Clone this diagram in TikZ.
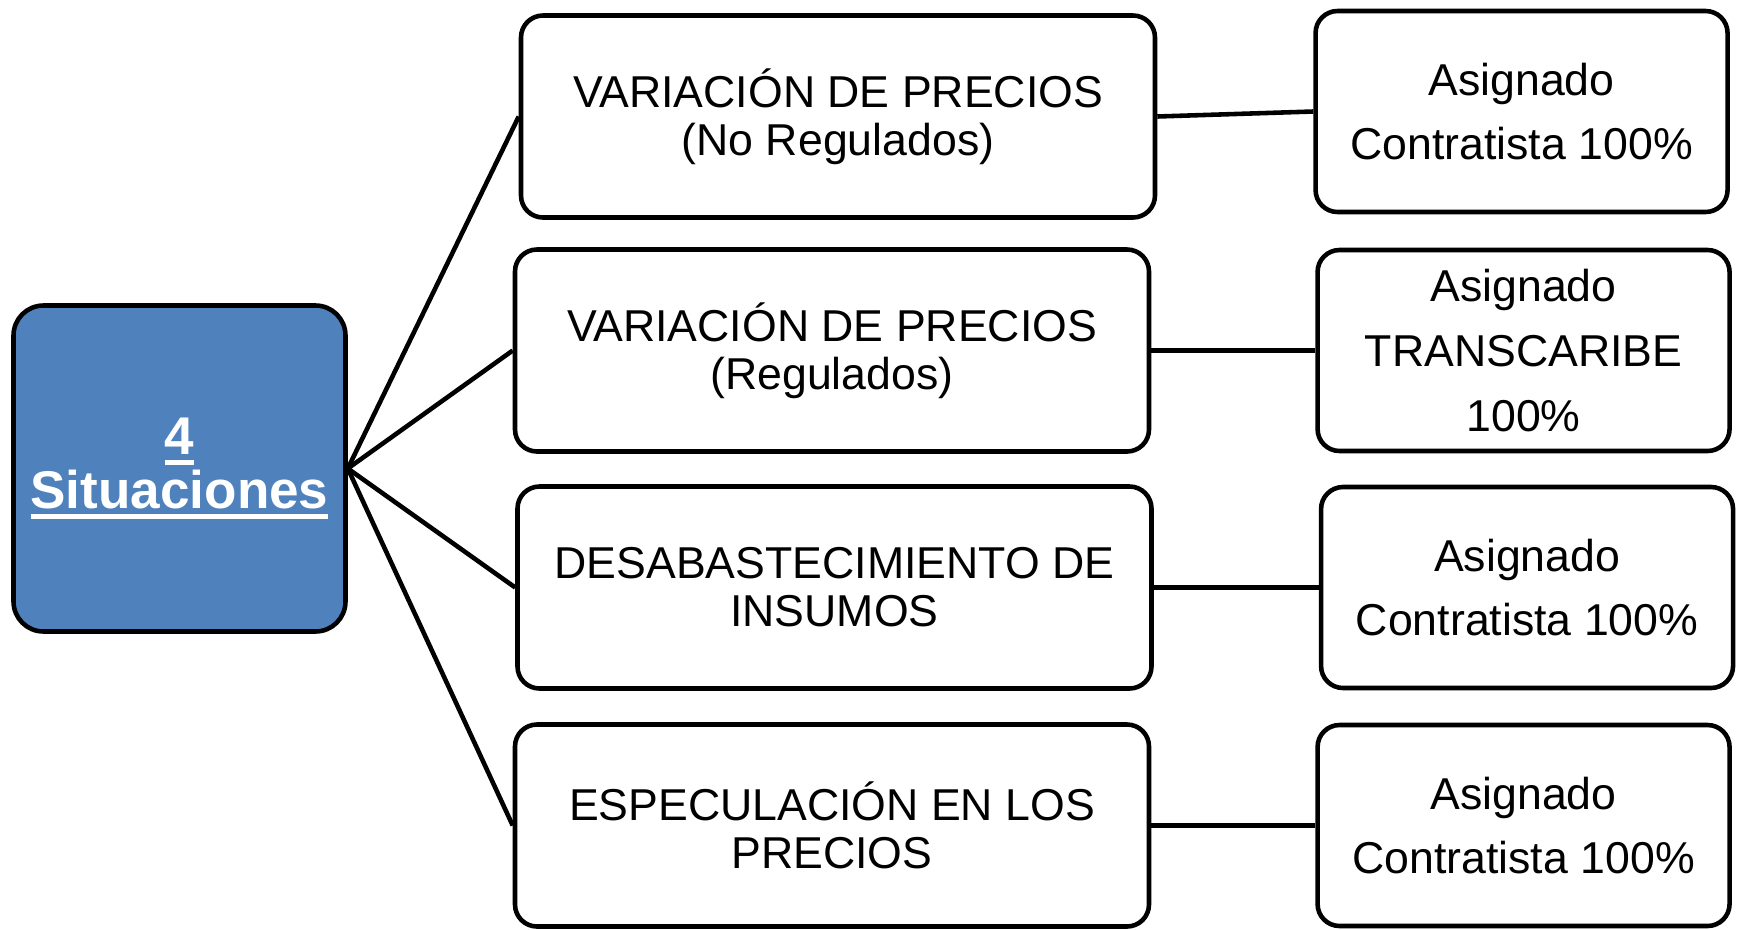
\documentclass[tikz,border=0pt]{standalone}
\usepackage{fontspec}
\setmainfont{Liberation Sans}
\usepackage{tikz}
\usetikzlibrary{positioning}
\definecolor{hubblue}{RGB}{79,129,189}
\newsavebox\ulbox
\newcommand{\thickul}[1]{\sbox\ulbox{#1}\rlap{\rule[-3.1pt]{\wd\ulbox}{1.6pt}}\usebox\ulbox}
\tikzset{
    hub/.style={rectangle,rounded corners=0.3cm,draw=black,fill=hubblue,line width=1.3pt,minimum width=3.32cm,minimum height=3.26cm,text=white,align=center,font=\bfseries\fontsize{15.1}{15.4}\selectfont},
    situation/.style={rectangle,rounded corners=0.22cm,draw=black,fill=white,line width=1.3pt,minimum width=6.34cm,minimum height=2.02cm,align=center,font=\fontsize{12.7}{13.6}\selectfont},
    outcome/.style={rectangle,rounded corners=0.22cm,draw=black,fill=white,line width=1.3pt,minimum width=4.12cm,minimum height=2.01cm,align=center,font=\fontsize{12.7}{18.4}\selectfont},
    link/.style={line width=1.3pt},
}

\begin{document}
\begin{tikzpicture}
\useasboundingbox (0,0) rectangle (17.43,-9.29);
\node[hub](H) at (1.795,-4.685) {\thickul{4}\\\thickul{Situaciones}};
\node[situation](M1) at (8.38,-1.165) {VARIACIÓN DE PRECIOS\\(No Regulados)};
\node[situation](M2) at (8.32,-3.505) {VARIACIÓN DE PRECIOS\\(Regulados)};
\node[situation](M3) at (8.345,-5.875) {DESABASTECIMIENTO DE\\INSUMOS};
\node[situation](M4) at (8.32,-8.255) {ESPECULACIÓN EN LOS\\PRECIOS};
\node[outcome](R1) [right =1.56cm of M1,yshift=0.05cm] {Asignado\\Contratista 100\%};
\node[outcome](R2) [right =1.64cm of M2] {Asignado\\TRANSCARIBE\\100\%};
\node[outcome](R3) [right =1.65cm of M3] {Asignado\\Contratista 100\%};
\node[outcome](R4) [right =1.64cm of M4] {Asignado\\Contratista 100\%};
\foreach \i in {1,...,4}{
    \draw[link] (H.east) -- (M\i.west);
    \draw[link] (M\i.east) -- (R\i.west);
}
\end{tikzpicture}
\end{document}
